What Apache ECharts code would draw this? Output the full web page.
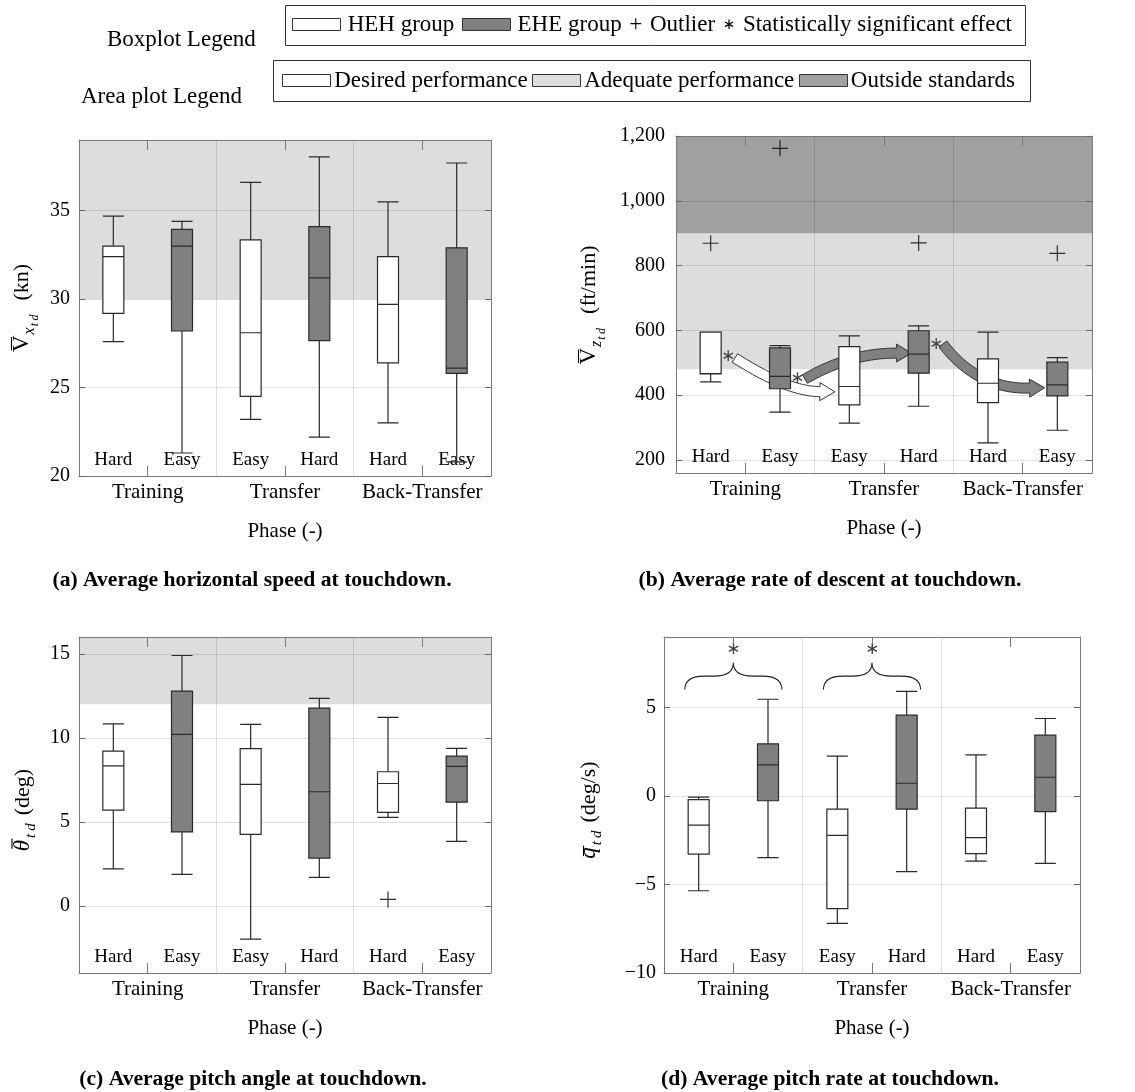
<!DOCTYPE html>
<html><head><meta charset="utf-8">
<script src="https://cdn.jsdelivr.net/npm/echarts@6/dist/echarts.min.js"></script>
<style>html,body{margin:0;padding:0;background:#fff}#c{width:1135px;height:1092px}</style>
</head><body><div id="c"></div>
<script>
// ---------------- data ----------------
const categories = ['Hard', 'Easy', 'Easy', 'Hard', 'Hard', 'Easy'];
const groups = ['HEH', 'EHE', 'HEH', 'EHE', 'HEH', 'EHE'];
const phases = ['Training', 'Transfer', 'Back-Transfer'];

// boxes: [min, Q1, median, Q3, max]
const vxBoxes = [
  [27.6, 29.2, 32.4, 33.0, 34.7],
  [21.3, 28.2, 33.0, 33.95, 34.4],
  [23.2, 24.5, 28.1, 33.35, 36.6],
  [22.2, 27.65, 31.2, 34.1, 38.05],
  [23.0, 26.4, 29.7, 32.4, 35.5],
  [20.8, 25.8, 26.1, 32.9, 37.7]
];
const vxOutliers = [];
const vxTicks = [20, 25, 30, 35];
const vxRange = [20, 39];
const vxBands = [[30, 39]];
const vxBandKinds = ['adequate'];

const vzBoxes = [
  [441, 466, 467, 595, 595],
  [348, 420, 458, 546, 553],
  [314, 370, 427, 550, 583],
  [366, 468, 527, 599, 614],
  [253, 377, 437, 512, 595],
  [292, 398, 432, 502, 516]
];
const vzOutliers = [[0, 869], [1, 1162], [3, 870], [5, 838]];
const vzTicks = [200, 400, 600, 800, 1000, 1200];
const vzRange = [160, 1200];
const vzBands = [[480, 900], [900, 1200]];
const vzBandKinds = ['adequate', 'outside'];
// arrows: [tailX, tailY, ctrlX, ctrlY, headX, headY] (x in category units)
const vzArrows = [
  [0.35, 515, 1.1, 412, 1.575, 411],
  [1.36, 450, 2.0, 530, 2.68, 530],
  [3.35, 558, 3.85, 418, 4.6, 422]
];
const vzArrowGroups = ['HEH', 'EHE', 'EHE'];
const vzStars = [[0.25, 519], [1.25, 450], [3.25, 555]];

const thetaBoxes = [
  [2.2, 5.7, 8.33, 9.21, 10.83],
  [1.87, 4.4, 10.2, 12.78, 14.9],
  [-1.98, 4.25, 7.23, 9.35, 10.8],
  [1.69, 2.84, 6.79, 11.77, 12.35],
  [5.26, 5.56, 7.28, 7.98, 11.21],
  [3.83, 6.17, 8.3, 8.91, 9.37]
];
const thetaOutliers = [[4, 0.38]];
const thetaTicks = [0, 5, 10, 15];
const thetaRange = [-4, 16];
const thetaBands = [[12, 16]];
const thetaBandKinds = ['adequate'];

const qBoxes = [
  [-5.35, -3.28, -1.64, -0.2, -0.06],
  [-3.48, -0.26, 1.77, 2.96, 5.48],
  [-7.19, -6.36, -2.22, -0.73, 2.26],
  [-4.27, -0.73, 0.73, 4.58, 5.93],
  [-3.67, -3.25, -2.35, -0.68, 2.34],
  [-3.80, -0.88, 1.07, 3.45, 4.39]
];
const qOutliers = [];
const qTicks = [-10, -5, 0, 5];
const qRange = [-10, 9];
const qBands = [];
const qBandKinds = [];
// braces: [xStart, xEnd, yBase, yPeak]
const qBraces = [[-0.2, 1.2, 6.03, 7.54], [1.8, 3.2, 6.03, 7.54]];
const qStars = [[0.5, 8.3], [2.5, 8.3]];

const boxLegendItems = ['HEH group', 'EHE group', 'Outlier', 'Statistically significant effect'];
const areaLegendItems = ['Desired performance', 'Adequate performance', 'Outside standards'];
const captions = [
  '(a) Average horizontal speed at touchdown.',
  '(b) Average rate of descent at touchdown.',
  '(c) Average pitch angle at touchdown.',
  '(d) Average pitch rate at touchdown.'
];
// y titles: [symbol, symbol italic?, subscript, sub-subscript, unit]
const yTitles = [
  ['V', false, 'x', 'td', '(kn)'],
  ['V', false, 'z', 'td', '(ft/min)'],
  ['\u03B8', true, '', 'td', '(deg)'],
  ['q', true, '', 'td', '(deg/s)']
];

// ---------------- style ----------------
const SERIF = '"Liberation Serif", "Times New Roman", serif';
const FILL = { HEH: '#ffffff', EHE: '#808080' };
const BAND_FILL = { desired: '#ffffff', adequate: '#dddddd', outside: '#a0a0a0' };
const FRAME = '#7a7a7a';
const GRIDC = 'rgba(0,0,0,0.12)';
const PLUS = 'path://M8,0L8,16M0,8L16,8';
const STAR_FONT = '17px "DejaVu Sans", sans-serif';

const fmtPlain = v => String(v);
const fmtComma = v => v.toLocaleString('en-US');
const fmtMinus = v => (v < 0 ? '\u2212' + Math.abs(v) : String(v));

const panels = [
  { box: [79, 140, 412, 336], range: vxRange, ticks: vxTicks, fmt: fmtPlain, labelMargin: 9,
    title: [30, 308], boxes: vxBoxes, outliers: vxOutliers, bands: vxBands, bandKinds: vxBandKinds,
    arrows: [], arrowGroups: [], stars: [], braces: [], caption: [252, 580] },
  { box: [676, 136, 416, 337], range: vzRange, ticks: vzTicks, fmt: fmtComma, labelMargin: 11,
    title: [597, 305], boxes: vzBoxes, outliers: vzOutliers, bands: vzBands, bandKinds: vzBandKinds,
    arrows: vzArrows, arrowGroups: vzArrowGroups, stars: vzStars, braces: [], caption: [830, 580] },
  { box: [79, 637, 412, 336], range: thetaRange, ticks: thetaTicks, fmt: fmtPlain, labelMargin: 9,
    title: [31, 810], boxes: thetaBoxes, outliers: thetaOutliers, bands: thetaBands, bandKinds: thetaBandKinds,
    arrows: [], arrowGroups: [], stars: [], braces: [], caption: [253, 1079] },
  { box: [664, 637, 416, 336], range: qRange, ticks: qTicks, fmt: fmtMinus, labelMargin: 8,
    title: [597, 810], boxes: qBoxes, outliers: qOutliers, bands: qBands, bandKinds: qBandKinds,
    arrows: [], arrowGroups: [], stars: qStars, braces: qBraces, caption: [830, 1079] }
];

// ---------------- render helpers ----------------
function makeBandRenderer(kinds) {
  return function (params, api) {
    const cs = params.coordSys;
    const yTop = api.coord([0, api.value(1)])[1];
    const yBot = api.coord([0, api.value(0)])[1];
    return { type: 'rect', shape: { x: cs.x, y: yTop, width: cs.width, height: yBot - yTop },
      style: { fill: BAND_FILL[kinds[params.dataIndex]] } };
  };
}
function makeArrowRenderer(arrowGroups) {
  return function (params, api) {
    const p0 = api.coord([api.value(0), api.value(1)]);
    const p1 = api.coord([api.value(2), api.value(3)]);
    const p2 = api.coord([api.value(4), api.value(5)]);
    const hw = 5, headW = 9, headL = 15, N = 40;
    const left = [], right = [];
    for (let i = 0; i <= N; i++) {
      const t = i / N;
      const x = (1 - t) * (1 - t) * p0[0] + 2 * (1 - t) * t * p1[0] + t * t * p2[0];
      const y = (1 - t) * (1 - t) * p0[1] + 2 * (1 - t) * t * p1[1] + t * t * p2[1];
      const dx = 2 * (1 - t) * (p1[0] - p0[0]) + 2 * t * (p2[0] - p1[0]);
      const dy = 2 * (1 - t) * (p1[1] - p0[1]) + 2 * t * (p2[1] - p1[1]);
      const L = Math.hypot(dx, dy) || 1;
      const nx = -dy / L, ny = dx / L;
      left.push([x + nx * hw, y + ny * hw]);
      right.push([x - nx * hw, y - ny * hw]);
    }
    let ux = p2[0] - p1[0], uy = p2[1] - p1[1];
    const UL = Math.hypot(ux, uy) || 1; ux /= UL; uy /= UL;
    const nx = -uy, ny = ux;
    const tip = [p2[0] + ux * headL, p2[1] + uy * headL];
    const hl = [p2[0] + nx * headW, p2[1] + ny * headW];
    const hr = [p2[0] - nx * headW, p2[1] - ny * headW];
    const pts = left.concat([hl, tip, hr], right.reverse());
    return { type: 'polygon', shape: { points: pts },
      style: { fill: FILL[arrowGroups[params.dataIndex]], stroke: '#333', lineWidth: 1 } };
  };
}
function renderStar(params, api) {
  const p = api.coord([api.value(0), api.value(1)]);
  return { type: 'text', x: p[0], y: p[1],
    style: { text: '\u2217', font: STAR_FONT, fill: '#444', align: 'center', verticalAlign: 'middle' } };
}
function renderBrace(params, api) {
  const a = api.coord([api.value(0), api.value(2)]);
  const b = api.coord([api.value(1), api.value(2)]);
  const pk = api.coord([(api.value(0) + api.value(1)) / 2, api.value(3)]);
  const xa = a[0], xb = b[0], yb = a[1], xc = pk[0], yp = pk[1];
  const ym = (yb + yp) / 2;
  const r = 0.4 * (xc - xa);
  const d = `M${xa},${yb} Q${xa},${ym} ${xa + r},${ym} L${xc - r},${ym} Q${xc},${ym} ${xc},${yp} ` +
            `Q${xc},${ym} ${xc + r},${ym} L${xb - r},${ym} Q${xb},${ym} ${xb},${yb}`;
  return { type: 'path', shape: { pathData: d }, style: { fill: 'none', stroke: '#222', lineWidth: 1.1 } };
}

const mctx = document.createElement('canvas').getContext('2d');
function tw(t, font) { mctx.font = font; return mctx.measureText(t).width; }

// rotated y-axis title built from text pieces + an overline (local baseline at y = 0)
function yTitleGraphic(spec, pos) {
  const [sym, symItalic, sub, subsub, unit] = spec;
  const sMain = 23, sSub = 16, sSub2 = sub ? 12 : 15, sUnit = 22;
  const fMain = (symItalic ? 'italic ' : '') + sMain + 'px ' + SERIF;
  const fSub = 'italic ' + sSub + 'px ' + SERIF;
  const fSub2 = 'italic ' + sSub2 + 'px ' + SERIF;
  const fUnit = sUnit + 'px ' + SERIF;
  const pieces = [];
  let x = 0;
  const wSym = tw(sym, fMain);
  pieces.push({ t: sym, f: fMain, s: sMain, x: x, b: 0 }); x += wSym + (symItalic ? 1 : 0);
  if (sub) { pieces.push({ t: sub, f: fSub, s: sSub, x: x + 1, b: 5 }); x += 1 + tw(sub, fSub); }
  const subsubText = subsub.split('').join('\u2009');
  pieces.push({ t: subsubText, f: fSub2, s: sSub2, x: x + 1, b: sub ? 9 : 5 }); x += 1 + tw(subsubText, fSub2);
  x += sub ? 14 : 8;
  pieces.push({ t: unit, f: fUnit, s: sUnit, x: x, b: 0 }); x += tw(unit, fUnit);
  const W = x;
  const children = pieces.map(p => ({ type: 'text', x: p.x - W / 2, y: p.b - 0.34 * p.s,
    style: { text: p.t, font: p.f, fill: '#000', align: 'left', verticalAlign: 'middle' } }));
  const capH = sym === 'V' ? 15.5 : (sym === 'q' ? 10.5 : 16);
  const oy = -capH - 3;
  const ox0 = -W / 2 + (symItalic ? 2.5 : 1.5), ox1 = -W / 2 + wSym + (symItalic ? 1.5 : -1.5);
  children.push({ type: 'line', shape: { x1: ox0, y1: oy, x2: ox1, y2: oy }, style: { stroke: '#000', lineWidth: 1.1 } });
  return { type: 'group', x: pos[0], y: pos[1], rotation: Math.PI / 2, children: children };
}

// ---------------- option ----------------
const option = { backgroundColor: '#fff', animation: false, grid: [], xAxis: [], yAxis: [], series: [], graphic: [] };

panels.forEach((p, g) => {
  option.grid.push({ left: p.box[0], top: p.box[1], width: p.box[2], height: p.box[3] });
  option.xAxis.push({ type: 'category', gridIndex: g, position: 'bottom', data: categories, z: 1,
    axisLine: { show: true, onZero: false, lineStyle: { color: FRAME, width: 1 } },
    axisTick: { show: true, inside: true, length: 10, interval: i => i % 2 === 1, lineStyle: { color: FRAME } },
    axisLabel: { inside: true, margin: 6, interval: 0, hideOverlap: false, fontFamily: SERIF, fontSize: 19, color: '#000' },
    splitLine: { show: true, interval: i => i === 2 || i === 4, lineStyle: { color: GRIDC, width: 1 } } });
  option.xAxis.push({ type: 'category', gridIndex: g, position: 'bottom', data: phases, z: 1,
    axisLine: { show: false, onZero: false }, axisTick: { show: false }, splitLine: { show: false },
    axisLabel: { margin: 6, interval: 0, fontFamily: SERIF, fontSize: 21, color: '#000' },
    name: 'Phase (-)', nameLocation: 'middle', nameGap: 45,
    nameTextStyle: { fontFamily: SERIF, fontSize: 21, color: '#000' } });
  option.xAxis.push({ type: 'category', gridIndex: g, position: 'top', data: categories, z: 1,
    axisLine: { show: true, onZero: false, lineStyle: { color: FRAME, width: 1 } },
    axisTick: { show: true, inside: true, length: 10, interval: i => i % 2 === 1, lineStyle: { color: FRAME } },
    axisLabel: { show: false }, splitLine: { show: false } });
  option.xAxis.push({ type: 'value', gridIndex: g, position: 'bottom', min: -0.5, max: 5.5, show: false,
    axisLine: { onZero: false } });

  option.yAxis.push({ type: 'value', gridIndex: g, position: 'left', min: p.range[0], max: p.range[1], z: 1,
    axisLine: { show: true, onZero: false, lineStyle: { color: FRAME, width: 1 } },
    axisTick: { show: true, inside: true, length: 6, customValues: p.ticks, lineStyle: { color: '#666' } },
    axisLabel: { customValues: p.ticks, formatter: p.fmt, margin: p.labelMargin, fontFamily: SERIF, fontSize: 20, color: '#000' },
    splitLine: { show: true, lineStyle: { color: GRIDC, width: 1 } } });
  option.yAxis.push({ type: 'value', gridIndex: g, position: 'right', min: p.range[0], max: p.range[1], z: 1,
    axisLine: { show: true, onZero: false, lineStyle: { color: FRAME, width: 1 } },
    axisTick: { show: true, inside: true, length: 6, customValues: p.ticks, lineStyle: { color: '#666' } },
    axisLabel: { show: false }, splitLine: { show: false } });

  const xc = 4 * g, xv = 4 * g + 3, yi = 2 * g;
  option.series.push({ type: 'custom', xAxisIndex: xv, yAxisIndex: yi, z: 0, silent: true,
    data: p.bands, renderItem: makeBandRenderer(p.bandKinds) });
  option.series.push({ type: 'custom', xAxisIndex: xv, yAxisIndex: yi, z: 2, silent: true,
    data: p.arrows, renderItem: makeArrowRenderer(p.arrowGroups) });
  option.series.push({ type: 'boxplot', xAxisIndex: xc, yAxisIndex: yi, z: 3, silent: true,
    boxWidth: [21, 21],
    data: p.boxes.map((b, i) => ({ value: b, itemStyle: { color: FILL[groups[i]], borderColor: '#2a2a2a', borderWidth: 1.2 } })) });
  option.series.push({ type: 'scatter', xAxisIndex: xc, yAxisIndex: yi, z: 4, silent: true,
    data: p.outliers, symbol: PLUS, symbolSize: 16,
    itemStyle: { color: 'rgba(0,0,0,0)', borderColor: '#000', borderWidth: 1.2 } });
  option.series.push({ type: 'custom', xAxisIndex: xv, yAxisIndex: yi, z: 4, silent: true,
    data: p.stars, renderItem: renderStar });
  option.series.push({ type: 'custom', xAxisIndex: xv, yAxisIndex: yi, z: 4, silent: true,
    data: p.braces, renderItem: renderBrace });

  option.graphic.push({ type: 'text', x: p.caption[0], y: p.caption[1],
    style: { text: captions[g], font: 'bold 21.6px ' + SERIF, fill: '#000', align: 'center', verticalAlign: 'middle' } });
  option.graphic.push(yTitleGraphic(yTitles[g], p.title));
});

// ---------------- legends ----------------
const LEG_FONT = '23px ' + SERIF;
function layoutRow(items, x0, x1, cy) {
  const widths = items.map(it => it.kind === 'rect' ? 48 : tw(it.text, it.font || LEG_FONT));
  const total = widths.reduce((a, b) => a + b, 0);
  const gap = (x1 - x0 - total) / (items.length - 1);
  let x = x0;
  items.forEach((it, i) => {
    if (it.kind === 'rect') {
      option.graphic.push({ type: 'rect', shape: { x: Math.round(x) + 0.5, y: cy - 6.5, width: 48, height: 12 },
        style: { fill: it.fill, stroke: '#333', lineWidth: 1 } });
    } else {
      option.graphic.push({ type: 'text', x: x, y: cy,
        style: { text: it.text, font: it.font || LEG_FONT, fill: '#000', align: 'left', verticalAlign: 'middle' } });
    }
    x += widths[i] + gap;
  });
}
option.graphic.push({ type: 'rect', shape: { x: 285.5, y: 5.5, width: 740, height: 40 }, style: { fill: '#fff', stroke: '#333', lineWidth: 1 } });
option.graphic.push({ type: 'rect', shape: { x: 273.5, y: 60.5, width: 757, height: 41 }, style: { fill: '#fff', stroke: '#333', lineWidth: 1 } });
option.graphic.push({ type: 'text', x: 107, y: 40, style: { text: 'Boxplot Legend', font: LEG_FONT, fill: '#000', align: 'left', verticalAlign: 'middle' } });
option.graphic.push({ type: 'text', x: 81, y: 97, style: { text: 'Area plot Legend', font: LEG_FONT, fill: '#000', align: 'left', verticalAlign: 'middle' } });
layoutRow([
  { kind: 'rect', fill: FILL.HEH }, { kind: 'text', text: boxLegendItems[0] },
  { kind: 'rect', fill: FILL.EHE }, { kind: 'text', text: boxLegendItems[1] },
  { kind: 'text', text: '+' }, { kind: 'text', text: boxLegendItems[2] },
  { kind: 'text', text: '\u2217', font: '15px "DejaVu Sans", sans-serif' }, { kind: 'text', text: boxLegendItems[3] }
], 292, 1012, 25);
layoutRow([
  { kind: 'rect', fill: BAND_FILL.desired }, { kind: 'text', text: areaLegendItems[0] },
  { kind: 'rect', fill: BAND_FILL.adequate }, { kind: 'text', text: areaLegendItems[1] },
  { kind: 'rect', fill: BAND_FILL.outside }, { kind: 'text', text: areaLegendItems[2] }
], 282, 1015, 81);

const chart = echarts.init(document.getElementById('c'), null, { renderer: 'canvas', width: 1135, height: 1092 });
chart.setOption(option);
</script>
</body></html>
